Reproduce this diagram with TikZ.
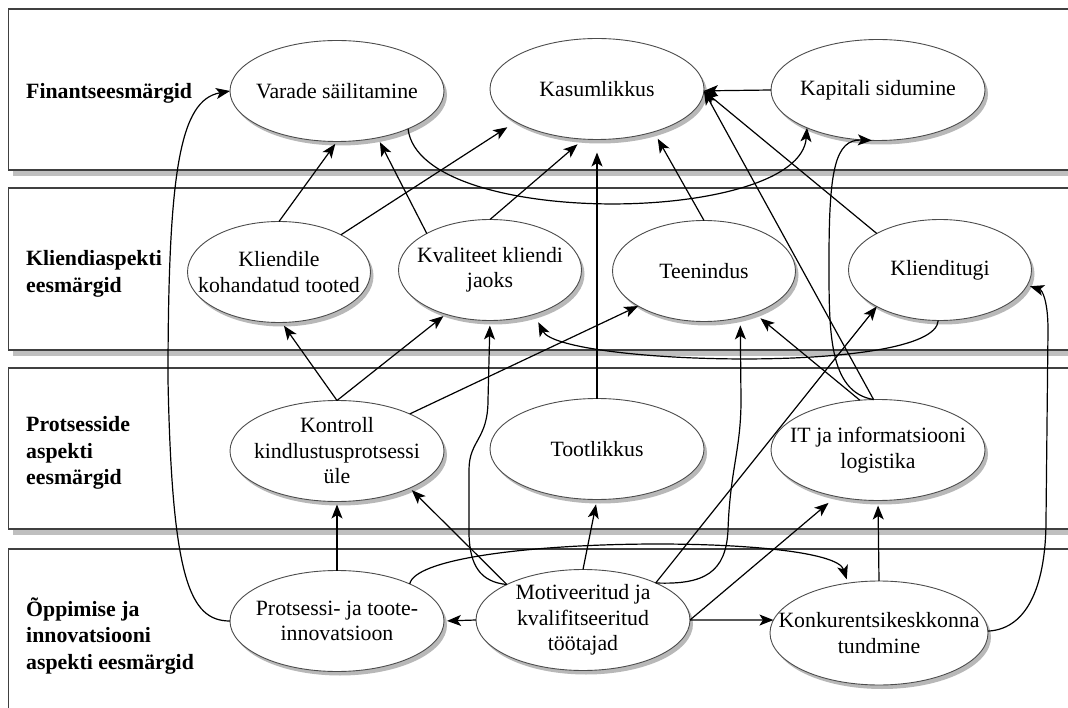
\documentclass[tikz,border=0pt]{standalone}
\usepackage{fontspec}
\setmainfont{Liberation Serif}
\usetikzlibrary{shapes.geometric,arrows.meta,shadows}
\begin{document}
\begin{tikzpicture}[x=1pt,y=-1pt,
  font=\fontsize{21.8}{25.5}\selectfont,
  band/.style={draw=black!75,line width=1.3pt,fill=white,
    drop shadow={shadow xshift=4pt,shadow yshift=-6pt,fill=black!25,opacity=1}},
  bandlabel/.style={anchor=west,align=left,inner sep=0pt,
    font=\fontsize{21.8}{26.5}\selectfont\bfseries},
  goal/.style={ellipse,draw=black!70,line width=0.9pt,fill=white,align=center,
    inner xsep=-120pt,inner ysep=-45pt,outer sep=0pt,
    minimum width=214pt,minimum height=101pt,
    drop shadow={shadow xshift=3pt,shadow yshift=-4pt,fill=black!28,opacity=1}},
  narrow/.style={minimum width=183pt},
  link/.style={line width=1.2pt,-{Stealth[length=14pt,width=11pt,inset=3.5pt]}},
]
\useasboundingbox (0,0) rectangle (1068,708);
\clip (0,0) rectangle (1068,708);

% perspective bands
\path[band] (8.5,9) rectangle (1100,170);
\path[band] (8.5,188) rectangle (1100,350);
\path[band] (8.5,368) rectangle (1100,529);
\path[band] (8.5,549) rectangle (1100,760);

\node[bandlabel] (l1) at (26,93) {Finantseesmärgid};
\node[bandlabel] (l2) at (26,274) {Kliendiaspekti\\eesmärgid};
\node[bandlabel] (l3) at (26,453) {Protsesside\\aspekti\\eesmärgid};
\node[bandlabel] (l4) at (26,636) {Õppimise ja\\innovatsiooni\\aspekti eesmärgid};

% goals
\node[goal] (var) at (337,91) {Varade säilitamine};
\node[goal] (kas) at (597,89) {Kasumlikkus};
\node[goal] (kap) at (878,90) {Kapitali sidumine};
\node[goal,narrow] (kli) at (279,272) {Kliendile\\kohandatud tooted};
\node[goal,narrow] (kva) at (490,270) {Kvaliteet kliendi\\jaoks};
\node[goal,narrow] (tee) at (704,271) {Teenindus};
\node[goal,narrow] (klt) at (940,270) {Klienditugi};
\node[goal] (kon) at (337,451) {Kontroll\\kindlustusprotsessi\\üle};
\node[goal] (too) at (597,449) {Tootlikkus};
\node[goal] (it) at (878,450) {IT ja informatsiooni\\logistika};
\node[goal] (pro) at (337,621) {Protsessi- ja toote-\\innovatsioon};
\node[goal] (mot) at (583,620) {Motiveeritud ja\\kvalifitseeritud\\töötajad};
\node[goal,minimum width=218pt,minimum height=104pt] (kkk) at (879,633) {Konkurentsikeskkonna\\tundmine};

% financial level
\draw[link] (kap.west) -- (kas.-1);
\draw[link] (var.-28) .. controls (420,230) and (800,225) .. (kap.-152);
\draw[link] (pro.west) .. controls (190,621) and (172,580) .. (168,380)
  .. controls (168,170) and (180,100) .. (var.west);

% customer level
\draw[link,shorten >=3pt] (kli.north) -- (var.south);
\draw[link,shorten >=10pt] (kli.31) -- (kas.-158);
\draw[link,shorten >=5pt] (kva.150) -- (var.-49);
\draw[link,shorten >=8pt] (kva.north) -- (kas.-105);
\draw[link,shorten >=8pt] (tee.north) -- (kas.-37);
\draw[link] (klt.150) -- (kas.-1);
\draw[link,shorten >=9pt] (klt.-92) .. controls (935,375) and (560,365) .. (kva.-45);

% process level
\draw[link,shorten >=13pt] (too.north) -- (kas.south);
\draw[link] (it.95) -- (kas.-1);
\draw[link] (it.95) .. controls (828,392) and (829,330) .. (829,260)
  .. controls (829,170) and (835,139) .. (kap.-97);
\draw[link,shorten >=4pt] (kon.north) -- (kli.-87);
\draw[link,shorten >=3pt] (kon.north) -- (kva.-135);
\draw[link] (kon.27) -- (tee.-152);
\draw[link,shorten >=8pt] (it.110) -- (tee.-40);

% learning level
\draw[link,shorten >=3pt] (pro.north) -- (kon.south);
\draw[link,shorten >=3pt] (mot.west) -- (pro.east);
\draw[link,shorten >=3pt] (mot.155) -- (kon.-27);
\draw[link,shorten >=5pt] (mot.155) .. controls (480,582) and (470,565) .. (469,535)
  -- (469,470) .. controls (469,440) and (488,440) .. (488,400) -- (kva.-90);
\draw[link,shorten >=5pt] (mot.north) -- (too.south);
\draw[link,shorten >=8pt] (mot.27) .. controls (705,585) and (726,572) .. (728,530)
  .. controls (730,470) and (741,450) .. (741,400) -- (tee.-52);
\draw[link] (mot.27) -- (klt.-150);
\draw[link,shorten >=10pt] (mot.east) -- (it.-132);
\draw[link] (mot.east) -- (kkk.173);
\draw[link,shorten >=4pt] (pro.27) .. controls (420,535) and (832,532) .. (kkk.122);
\draw[link,shorten >=5pt] (kkk.north) -- (it.south);
\draw[link,shorten >=3pt] (kkk.1) .. controls (1030,629) and (1046,580) .. (1046,520)
  -- (1048,330) .. controls (1048,300) and (1042,290) .. (klt.-10);
\end{tikzpicture}
\end{document}
